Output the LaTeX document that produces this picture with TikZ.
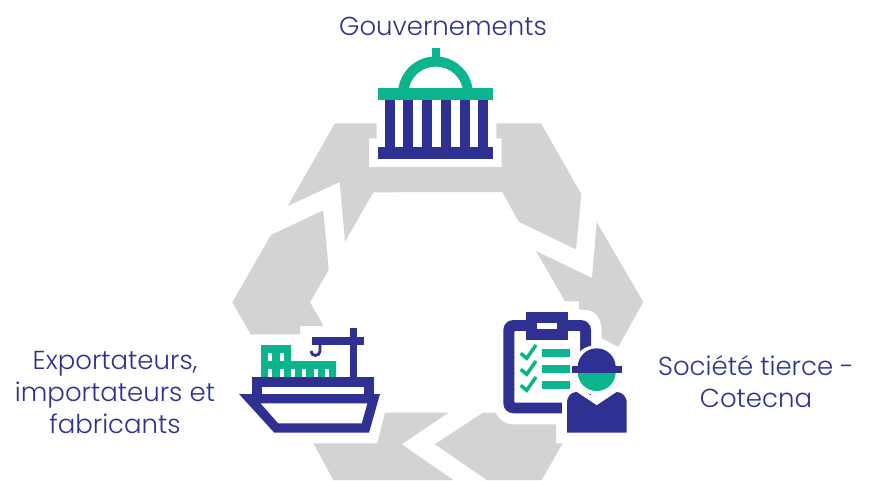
\documentclass[tikz,border=0pt]{standalone}
\usepackage{fontspec}
\usepackage{xcolor}
\setmainfont{Poppins Light}
\definecolor{cycle}{RGB}{211,211,211}
\definecolor{navy}{RGB}{46,49,146}
\definecolor{teal}{RGB}{11,180,141}
\tikzstyle{actor}=[text=navy,font=\fontsize{26}{32}\selectfont,align=center]
\tikzstyle{arrow}=[fill=cycle]
\tikzstyle{dark}=[fill=navy]
\tikzstyle{green}=[fill=teal]
\tikzstyle{blank}=[fill=white]
\tikzstyle{tick}=[draw=teal,line width=3.5pt]
\begin{document}
\begin{tikzpicture}[x=1pt,y=-1pt]
  \useasboundingbox (0,0) rectangle (869,480);
  %% Grey cycle
  \fill[arrow] (335,123.3) -- (376.7,123.3) -- (376.7,138.3) -- (369,138.3) -- (369,167) -- (501.7,167) -- (501.7,138.3) -- (496.3,138.3) -- (496.3,123.3) -- (541,123.3) -- (581.3,194) -- (576,249.3) -- (518.7,221.7) -- (502.3,192) -- (373.3,192.3) -- (345,241.7) -- (339.7,182) -- (287.7,206) -- cycle;
  \fill[arrow] (323.3,210.3) -- (271,235) -- (232.3,302.3) -- (250.7,334.3) -- (300,334.3) -- (300,326) -- (323.7,326) -- (310,302.3) -- (328.7,270) -- cycle;
  \fill[arrow] (596.7,222) -- (643.3,302) -- (618.3,346.7) -- (601.7,338.3) -- (601.7,330) .. controls (601.7,318) and (594,310) .. (586.7,310) -- (579,309.3) -- (579,301.3) -- (565,301.3) -- (536,251) -- (592,278) -- cycle;
  \fill[arrow] (385,412.7) -- (448.3,412.7) -- (401.7,444.3) -- (453.3,480) -- (333.3,480) -- (313.3,443.3) -- (377.3,443.3) -- cycle;
  \fill[arrow] (482.7,412.7) -- (495,412.7) .. controls (500,420) and (505,424.3) .. (511.7,424.3) -- (556,424.3) -- (556,443.3) -- (562.7,443.3) -- (541.7,480) -- (486.7,480) -- (435,444.3) -- cycle;

  %% Government building
  \fill[green] (431.7,48.3) rectangle (440,60);
  \fill[green] (398.4,88.3) arc[start angle=188.7,end angle=351.3,radius=37.5] -- (462.7,88.3) arc[start angle=348,end angle=192,radius=27.5] -- cycle;
  \fill[green] (378,88.3) rectangle (493,100);
  \fill[dark] (385,100) rectangle (395,147);
  \fill[dark] (403,100) rectangle (413,147);
  \fill[dark] (422,100) rectangle (432,147);
  \fill[dark] (441,100) rectangle (451,147);
  \fill[dark] (460,100) rectangle (470,147);
  \fill[dark] (478,100) rectangle (488,147);
  \fill[dark] (378,147) rectangle (493,159);

  %% Ship
  \fill[green] (261,345) -- (291,345) -- (291,361) -- (336,361) -- (336,377.3) -- (261,377.3) -- cycle;
  \fill[blank] (268.3,353) rectangle (272.3,361);
  \fill[blank] (279.7,353) rectangle (283.7,361);
  \fill[blank] (268.3,368.7) rectangle (272.3,377.3);
  \fill[blank] (279.7,368.7) rectangle (283.7,377.3);
  \fill[blank] (291,368.7) rectangle (295,377.3);
  \fill[blank] (302.3,368.7) rectangle (306.3,377.3);
  \fill[blank] (313.7,368.7) rectangle (317.7,377.3);
  \fill[blank] (325,368.7) rectangle (329,377.3);
  \fill[dark] (350,328.3) rectangle (357.3,377.3);
  \fill[dark] (312.3,337.3) rectangle (364.3,344.7);
  \draw[navy,line width=2.8pt] (320,344.7) -- (320,351) arc[start angle=0,end angle=180,radius=4.5];
  \fill[dark] (252.3,377.3) rectangle (374,394);
  \fill[blank] (262,387.3) rectangle (364.3,394);
  \fill[dark] (239,394) -- (380,394) -- (369,432.7) -- (274.3,432.7) -- cycle;
  \fill[blank] (260.7,403.3) -- (367.3,403.3) -- (361.7,423.3) -- (278.3,423.3) -- cycle;

  %% Clipboard
  \fill[dark,rounded corners=10pt] (503.3,320) rectangle (591,413.3);
  \fill[blank,rounded corners=1pt] (514.3,331) rectangle (580,402.7);
  \fill[dark] (526.3,312) rectangle (568,340);
  \fill[blank] (537.3,323.3) rectangle (557,329);
  \draw[tick] (520.7,353.3) -- (526.7,358.3) -- (536,345);
  \draw[tick] (520.7,369.3) -- (526.7,374.3) -- (536,361);
  \draw[tick] (520.7,385.3) -- (526.7,390.3) -- (536,377);
  \fill[green] (542,349) rectangle (570,357);
  \fill[green] (542,365) rectangle (570,373);
  \fill[green] (542,381) rectangle (570,389);

  %% Inspector
  \fill[blank] (596.7,370) circle[radius=25];
  \draw[white,fill=white,line width=10pt,line join=round] (567,432.7) -- (567,403.3) .. controls (567,396) and (571,392) .. (576.7,392) -- (596.7,405.3) -- (616.7,392) .. controls (622,392) and (626.7,396) .. (626.7,403.3) -- (626.7,432.7) -- cycle;
  \fill[green] (596.7,372) circle[radius=19];
  \fill[dark] (577.7,367.3) arc[start angle=180,end angle=360,radius=19] -- cycle;
  \fill[dark] (572.3,366) rectangle (621.7,372.7);
  \fill[dark] (567,432.7) -- (567,403.3) .. controls (567,396) and (571,392) .. (576.7,392) -- (596.7,405.3) -- (616.7,392) .. controls (622,392) and (626.7,396) .. (626.7,403.3) -- (626.7,432.7) -- cycle;

  %% Labels
  \node[actor] (gouv) at (443,26) {Gouvernements};
  \node[actor] (expo) at (115,392) {Exportateurs,\\importateurs et\\fabricants};
  \node[actor] (tiers) at (756,381.5) {Société tierce -\\Cotecna};
\end{tikzpicture}
\end{document}
